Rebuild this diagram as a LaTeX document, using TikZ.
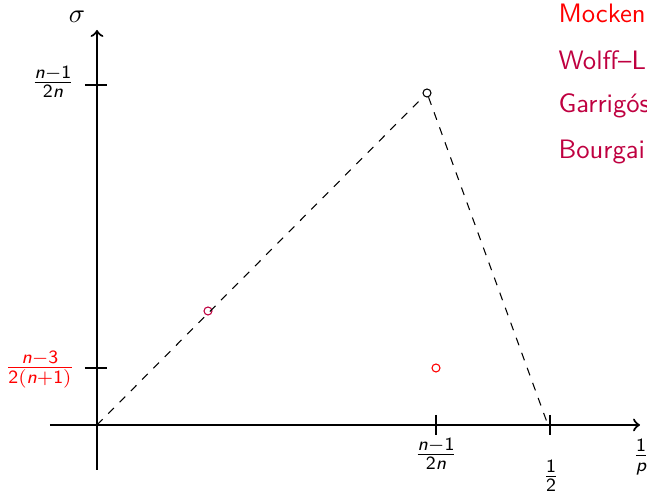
\documentclass[tikz,border=0pt]{standalone}
\usepackage{amsmath}
\usetikzlibrary{positioning}
\newcommand\sn{\text{\sffamily\itshape n}}
\newcommand\sd[1]{\mathsf{#1}}
\tikzset{ax/.style={line width=.8pt,->},tk/.style={line width=.4pt},
 pt/.style={circle,draw,line width=.4pt,inner sep=0pt,minimum size=3pt},
 lab/.style={font=\sffamily},
 ref/.style={font=\sffamily,anchor=base west,inner sep=0pt}}
\begin{document}
\begin{tikzpicture}[x=.375pt,y=.375pt]
\useasboundingbox (-97,-68) rectangle (550,425);
% axes
\draw[ax] (0,-45) -- (0,395);
\draw[ax] (-47,0) -- (543,0);
\coordinate (o) at (0,0);
\coordinate (e) at (451,0);
% ticks
\draw[tk] (-12,340) -- (10,340);\draw[tk] (-12,57) -- (10,57);
\draw[tk] (339,10) -- (339,-10);\draw[tk] (453,10) -- (453,-10);
\node (sig) at (-20,408) {$\sigma$};
\node[lab] (yt1) at (-44,343) {$\frac{\sn-\sd{1}}{\sd{2}\sn}$};
\node[lab,text=red] (yt2) at (-57,55) {$\frac{\sn-\sd{3}}{\sd{2}(\sn+\sd{1})}$};
\node[lab] (xt1) at (339,-29) {$\frac{\sn-\sd{1}}{\sd{2}\sn}$};
\node[lab] (xt2) at (454,-51) {$\frac{\sd{1}}{\sd{2}}$};
\node[lab] (xl) at (544,-32) {$\frac{\sd{1}}{\text{\sffamily\itshape p}}$};
% points
\node[pt] (top) at (330,332) {};
\node[pt,draw=purple] (pw) at (111,114) {};
\node[pt,draw=red] (pm) at (339,57) {};
\draw[dashed,line width=.4pt] (o) -- (top) -- (e);
% references
\node[ref,text=red] (mock) at (461,402) {Mockenhaupt};
\node[ref,text=purple] (wolff) at (461,355) {Wolff--Laba};
\node[ref,text=purple] (garr) at (461,312) {Garrigós--Seeger};
\node[ref,text=purple] (bourg) at (461,266) {Bourgain};
\end{tikzpicture}
\end{document}
